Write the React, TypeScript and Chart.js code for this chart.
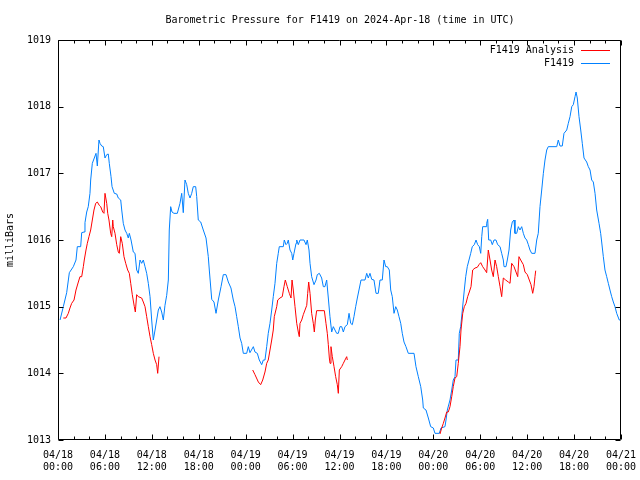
import { useEffect, useRef } from 'react';
import { Chart, registerables } from 'chart.js';

Chart.register(...registerables);

const FONT = "'DejaVu Sans Mono', 'Liberation Mono', monospace";

const chartTitle = 'Barometric Pressure for F1419 on 2024-Apr-18 (time in UTC)';
const yAxisTitle = 'milliBars';
const seriesNames = ['F1419 Analysis', 'F1419'];

const xTickDates = ['04/18', '04/18', '04/18', '04/18', '04/19', '04/19', '04/19', '04/19', '04/20', '04/20', '04/20', '04/20', '04/21'];
const xTickTimes = ['00:00', '06:00', '12:00', '18:00', '00:00', '06:00', '12:00', '18:00', '00:00', '06:00', '12:00', '18:00', '00:00'];

// F1419 (observed) — hours since 2024-04-18 00:00 UTC
const blueHours = [0.26,0.68,1.11,1.45,1.96,2.30,2.47,2.90,3.03,3.33,3.45,3.67,3.87,4.09,4.18,4.39,4.64,4.86,5.03,5.24,5.37,5.59,5.79,6.01,6.23,6.43,6.56,6.78,6.91,7.20,7.51,7.71,8.02,8.15,8.35,8.57,8.79,8.99,9.12,9.34,9.63,9.85,10.06,10.27,10.49,10.70,10.91,11.13,11.34,11.55,11.77,11.98,12.19,12.41,12.62,12.83,13.04,13.26,13.47,13.68,13.90,14.11,14.23,14.41,14.58,14.83,15.26,15.60,15.82,16.02,16.24,16.46,16.66,16.88,17.10,17.30,17.61,17.74,17.94,18.25,18.58,18.93,19.22,19.35,19.66,19.95,20.21,20.50,20.85,21.14,21.49,21.78,22.12,22.42,22.64,22.85,23.06,23.28,23.49,23.70,24.13,24.34,24.55,24.98,25.19,25.49,25.74,26.05,26.26,26.47,26.69,26.89,27.11,27.33,27.53,27.75,27.97,28.17,28.30,28.81,28.94,29.16,29.32,29.45,29.67,29.89,30.02,30.18,30.44,30.53,30.73,30.95,31.46,31.72,31.88,32.10,32.23,32.44,32.74,33.00,33.16,33.42,33.72,33.93,34.14,34.36,34.57,34.78,35.00,35.21,35.42,35.64,35.85,36.06,36.28,36.49,36.70,37.00,37.22,37.43,37.64,37.85,38.07,38.28,38.49,38.75,39.26,39.48,39.68,39.90,40.12,40.41,40.67,40.96,41.18,41.47,41.69,41.91,42.11,42.37,42.55,42.75,42.97,43.19,43.39,43.61,43.83,44.03,44.25,44.50,44.80,45.53,45.78,46.08,46.39,46.64,46.72,47.06,47.36,47.66,48.00,48.21,48.76,48.98,49.49,49.62,49.79,50.13,50.35,50.55,50.77,50.90,51.19,51.32,51.50,51.71,51.96,52.14,52.34,52.56,52.78,52.98,53.24,53.46,53.67,53.88,54.06,54.19,54.31,54.74,54.82,54.95,55.08,55.34,55.54,55.76,56.01,56.23,56.53,56.74,56.95,57.04,57.29,57.46,57.68,57.89,58.10,58.32,58.44,58.66,58.87,59.08,59.30,59.51,59.72,59.94,60.15,60.36,60.58,61.00,61.22,61.42,61.64,61.86,62.07,62.28,62.50,62.70,63.78,63.98,64.20,64.49,64.71,65.06,65.26,65.48,65.70,65.90,66.12,66.25,66.41,66.63,66.85,67.05,67.27,67.61,67.82,68.04,68.25,68.46,68.68,68.89,69.19,69.40,69.53,69.74,69.95,70.17,70.38,70.59,70.81,71.02,71.23,71.45,71.78,72.00];
const blueValues = [1014.80,1015.00,1015.21,1015.51,1015.60,1015.70,1015.90,1015.90,1016.11,1016.12,1016.26,1016.42,1016.50,1016.70,1016.90,1017.15,1017.23,1017.30,1017.11,1017.50,1017.45,1017.41,1017.40,1017.23,1017.28,1017.29,1017.15,1016.95,1016.80,1016.70,1016.69,1016.63,1016.60,1016.45,1016.25,1016.15,1016.10,1016.03,1016.10,1016.00,1015.82,1015.80,1015.55,1015.50,1015.70,1015.65,1015.70,1015.60,1015.50,1015.35,1015.15,1014.80,1014.50,1014.65,1014.80,1014.95,1015.00,1014.92,1014.80,1015.02,1015.17,1015.40,1016.15,1016.50,1016.42,1016.40,1016.40,1016.55,1016.70,1016.41,1016.90,1016.83,1016.70,1016.63,1016.70,1016.80,1016.80,1016.65,1016.30,1016.27,1016.15,1016.03,1015.75,1015.55,1015.11,1015.07,1014.90,1015.10,1015.30,1015.48,1015.48,1015.37,1015.28,1015.10,1015.00,1014.85,1014.70,1014.53,1014.45,1014.30,1014.30,1014.40,1014.31,1014.40,1014.32,1014.30,1014.20,1014.13,1014.20,1014.20,1014.40,1014.60,1014.75,1014.95,1015.15,1015.35,1015.65,1015.80,1015.90,1015.90,1016.00,1015.93,1015.95,1016.00,1015.85,1015.80,1015.70,1015.80,1015.95,1016.00,1015.93,1016.00,1016.00,1015.93,1016.00,1015.85,1015.65,1015.45,1015.33,1015.40,1015.48,1015.50,1015.43,1015.30,1015.30,1015.40,1015.13,1014.85,1014.62,1014.70,1014.65,1014.60,1014.60,1014.70,1014.70,1014.62,1014.70,1014.73,1014.90,1014.75,1014.73,1014.85,1015.00,1015.13,1015.25,1015.40,1015.40,1015.50,1015.43,1015.50,1015.41,1015.40,1015.20,1015.20,1015.40,1015.40,1015.70,1015.60,1015.60,1015.55,1015.25,1015.15,1014.90,1015.00,1014.95,1014.85,1014.75,1014.60,1014.47,1014.40,1014.30,1014.30,1014.10,1013.95,1013.80,1013.60,1013.48,1013.45,1013.33,1013.20,1013.18,1013.10,1013.10,1013.18,1013.20,1013.30,1013.45,1013.60,1013.75,1013.90,1013.95,1014.20,1014.20,1014.60,1014.70,1014.95,1015.25,1015.45,1015.60,1015.70,1015.80,1015.90,1015.93,1016.00,1015.93,1015.90,1015.80,1016.05,1016.20,1016.20,1016.25,1016.31,1016.00,1016.00,1015.93,1016.00,1016.00,1015.93,1015.90,1015.80,1015.70,1015.60,1015.60,1015.70,1015.85,1016.15,1016.27,1016.30,1016.10,1016.10,1016.20,1016.15,1016.20,1016.10,1016.03,1016.00,1015.93,1015.85,1015.80,1015.80,1016.00,1016.10,1016.50,1016.75,1017.00,1017.20,1017.35,1017.40,1017.40,1017.50,1017.41,1017.41,1017.60,1017.65,1017.75,1017.85,1018.00,1018.03,1018.15,1018.22,1018.13,1017.85,1017.65,1017.45,1017.23,1017.17,1017.10,1017.05,1016.90,1016.87,1016.70,1016.45,1016.25,1016.10,1015.97,1015.75,1015.55,1015.45,1015.35,1015.25,1015.15,1015.07,1015.00,1014.90,1014.80,1014.80];

// F1419 Analysis — three segments with gaps
const redHours1 = [0.68,1.02,1.32,1.53,1.75,2.05,2.30,2.60,2.81,3.03,3.24,3.36,3.58,3.75,3.96,4.18,4.39,4.60,4.82,5.03,5.28,5.46,5.72,5.88,6.01,6.23,6.36,6.52,6.74,6.87,7.00,7.07,7.29,7.51,7.71,7.84,8.02,8.22,8.44,8.66,8.91,9.12,9.30,9.50,9.76,9.89,10.06,10.27,10.70,10.91,11.13,11.34,11.55,11.77,11.98,12.19,12.41,12.62,12.75,12.92];
const redValues1 = [1014.83,1014.83,1014.90,1014.98,1015.05,1015.10,1015.25,1015.37,1015.45,1015.45,1015.60,1015.70,1015.85,1015.95,1016.05,1016.15,1016.30,1016.45,1016.55,1016.57,1016.52,1016.50,1016.42,1016.40,1016.70,1016.55,1016.40,1016.30,1016.10,1016.05,1016.30,1016.20,1016.10,1015.93,1015.82,1015.80,1016.05,1015.95,1015.75,1015.65,1015.55,1015.50,1015.35,1015.18,1015.00,1014.92,1015.18,1015.15,1015.13,1015.07,1015.00,1014.85,1014.70,1014.55,1014.43,1014.30,1014.20,1014.13,1014.00,1014.25];
const redHours2 = [24.90,25.19,25.62,25.92,26.18,26.47,26.69,26.89,27.11,27.33,27.53,27.66,27.97,28.10,28.39,28.68,28.90,29.07,29.32,29.58,29.80,29.93,30.09,30.31,30.53,30.73,30.86,30.95,31.17,31.37,31.59,31.81,31.93,32.06,32.23,32.44,32.65,32.78,32.91,33.08,34.06,34.27,34.44,34.57,34.70,34.79,34.91,35.08,35.30,35.51,35.72,35.85,35.98,36.28,36.49,36.70,36.92,37.00];
const redValues2 = [1014.05,1013.98,1013.87,1013.83,1013.90,1014.02,1014.15,1014.20,1014.35,1014.50,1014.65,1014.85,1015.00,1015.10,1015.13,1015.15,1015.30,1015.40,1015.30,1015.20,1015.13,1015.40,1015.25,1015.00,1014.75,1014.62,1014.55,1014.75,1014.80,1014.88,1014.95,1015.02,1015.20,1015.37,1015.20,1014.90,1014.75,1014.62,1014.80,1014.94,1014.94,1014.75,1014.60,1014.43,1014.23,1014.15,1014.40,1014.25,1014.10,1013.95,1013.83,1013.70,1014.05,1014.10,1014.15,1014.20,1014.25,1014.20];
const redHours3 = [48.85,49.07,49.28,49.49,49.71,49.91,50.13,50.35,50.55,50.77,50.99,51.19,51.41,51.54,51.76,51.96,52.18,52.39,52.60,52.82,53.03,53.33,53.62,53.84,54.06,54.31,54.61,54.82,55.03,55.25,55.46,55.67,55.89,56.10,56.31,56.53,56.74,56.95,57.25,57.59,57.81,58.02,58.32,58.57,58.79,58.95,59.17,59.51,59.72,60.02,60.27,60.49,60.71,60.87,61.00,61.09];
const redValues3 = [1013.09,1013.18,1013.25,1013.33,1013.42,1013.42,1013.50,1013.65,1013.80,1013.93,1013.95,1014.15,1014.40,1014.65,1014.90,1015.00,1015.05,1015.15,1015.22,1015.30,1015.55,1015.58,1015.59,1015.63,1015.66,1015.60,1015.55,1015.51,1015.85,1015.70,1015.55,1015.45,1015.70,1015.60,1015.45,1015.30,1015.15,1015.43,1015.40,1015.37,1015.35,1015.65,1015.60,1015.52,1015.45,1015.75,1015.70,1015.63,1015.52,1015.48,1015.40,1015.33,1015.20,1015.30,1015.45,1015.54];

const RED = '#ff0000';
const BLUE = '#0080ff';

type Pt = { x: number; y: number | null };

function pairs(h: number[], v: number[]): Pt[] {
  const n = Math.min(h.length, v.length);
  const out: Pt[] = [];
  for (let i = 0; i < n; i++) out.push({ x: h[i], y: v[i] });
  return out;
}

function joinSegments(segs: Pt[][]): Pt[] {
  const out: Pt[] = [];
  segs.forEach((s, i) => {
    if (i > 0) {
      const prev = segs[i - 1];
      out.push({ x: (prev[prev.length - 1].x + s[0].x) / 2, y: null });
    }
    out.push(...s);
  });
  return out;
}

const framePlugin = {
  id: 'gnuFrame',
  afterDatasetsDraw(chart: any) {
    const { ctx, chartArea } = chart;
    const { left, right, top, bottom } = chartArea;
    const xs = chart.scales.x;
    const ys = chart.scales.y;
    const L = Math.round(left) + 0.5;
    const R = Math.round(right) - 0.5;
    const T = Math.round(top) + 0.5;
    const B = Math.round(bottom) - 0.5;
    ctx.save();
    ctx.strokeStyle = '#000';
    ctx.lineWidth = 1;
    ctx.beginPath();
    ctx.rect(L, T, R - L, B - T);
    // x ticks: major every 6h, minor every 2h
    for (let h = xs.min; h <= xs.max + 1e-6; h += 2) {
      const px = Math.round(xs.getPixelForValue(h)) + 0.5;
      const len = Math.abs(h % 6) < 1e-6 ? 5 : 3;
      ctx.moveTo(px, B);
      ctx.lineTo(px, B - len);
      ctx.moveTo(px, T);
      ctx.lineTo(px, T + len);
    }
    ys.ticks.forEach((t: any) => {
      const py = Math.round(ys.getPixelForValue(t.value)) + 0.5;
      ctx.moveTo(L, py);
      ctx.lineTo(L + 5, py);
      ctx.moveTo(R, py);
      ctx.lineTo(R - 5, py);
    });
    ctx.stroke();

    ctx.font = `10px ${FONT}`;
    ctx.fillStyle = '#000';
    ctx.textBaseline = 'middle';

    // title (gnuplot places it centred over the page at this position)
    ctx.textAlign = 'center';
    ctx.fillText(chartTitle, 340, 20);

    // legend (gnuplot style: label then line sample, top-right inside)
    ctx.textAlign = 'right';
    chart.data.datasets.forEach((ds: any, i: number) => {
      const y = Math.round(top + 10 + i * 12.5) + 0.5;
      ctx.fillText(ds.label, right - 47, y);
      ctx.beginPath();
      ctx.strokeStyle = ds.borderColor;
      ctx.moveTo(right - 40, y);
      ctx.lineTo(right - 11, y);
      ctx.stroke();
    });
    ctx.restore();
  },
};

const App = () => {
  const ref = useRef<HTMLCanvasElement>(null);
  useEffect(() => {
    document.body.style.margin = '0';
    const canvas = ref.current;
    if (!canvas) return;
    Chart.defaults.color = '#000';
    const redData = joinSegments([
      pairs(redHours1, redValues1),
      pairs(redHours2, redValues2),
      pairs(redHours3, redValues3),
    ]);
    const blueData = pairs(blueHours, blueValues);
    const chart = new Chart(canvas, {
      type: 'line',
      data: {
        datasets: [
          {
            label: seriesNames[0],
            data: redData as any,
            borderColor: RED,
            backgroundColor: RED,
            borderWidth: 1,
            pointRadius: 0,
            tension: 0,
            spanGaps: false,
          },
          {
            label: seriesNames[1],
            data: blueData as any,
            borderColor: BLUE,
            backgroundColor: BLUE,
            borderWidth: 1,
            pointRadius: 0,
            tension: 0,
          },
        ],
      },
      options: {
        animation: false,
        responsive: false,
        devicePixelRatio: 1,
        parsing: false,
        layout: { padding: { left: 0, right: 19, top: 40, bottom: 0 } },
        plugins: {
          legend: { display: false },
          tooltip: { enabled: false },
          title: { display: false },
        },
        scales: {
          x: {
            type: 'linear',
            min: 0,
            max: 72,
            grid: { display: false },
            border: { display: false },
            ticks: {
              stepSize: 6,
              autoSkip: false,
              maxRotation: 0,
              padding: 1,
              color: '#000',
              font: { family: FONT, size: 10, lineHeight: 1.25 },
              callback: (_v: any, i: number) => [xTickDates[i] ?? '', xTickTimes[i] ?? ''],
            },
            afterFit: (s: any) => {
              s.height = 40;
            },
          },
          y: {
            min: 1013,
            max: 1019,
            grid: { display: false, drawTicks: false, tickLength: 0 },
            border: { display: false },
            ticks: {
              stepSize: 1,
              padding: 7,
              color: '#000',
              font: { family: FONT, size: 10 },
              callback: (v: any) => String(Math.round(Number(v))),
            },
            title: {
              display: true,
              text: yAxisTitle,
              color: '#000',
              font: { family: FONT, size: 10 },
              padding: { top: 4, bottom: 0 },
            },
            afterFit: (s: any) => {
              s.width = 58;
            },
          },
        },
      },
      plugins: [framePlugin],
    });
    return () => chart.destroy();
  }, []);
  return (
    <canvas
      ref={ref}
      width={640}
      height={480}
      style={{ display: 'block', width: 640, height: 480 }}
    />
  );
};

export default App;
